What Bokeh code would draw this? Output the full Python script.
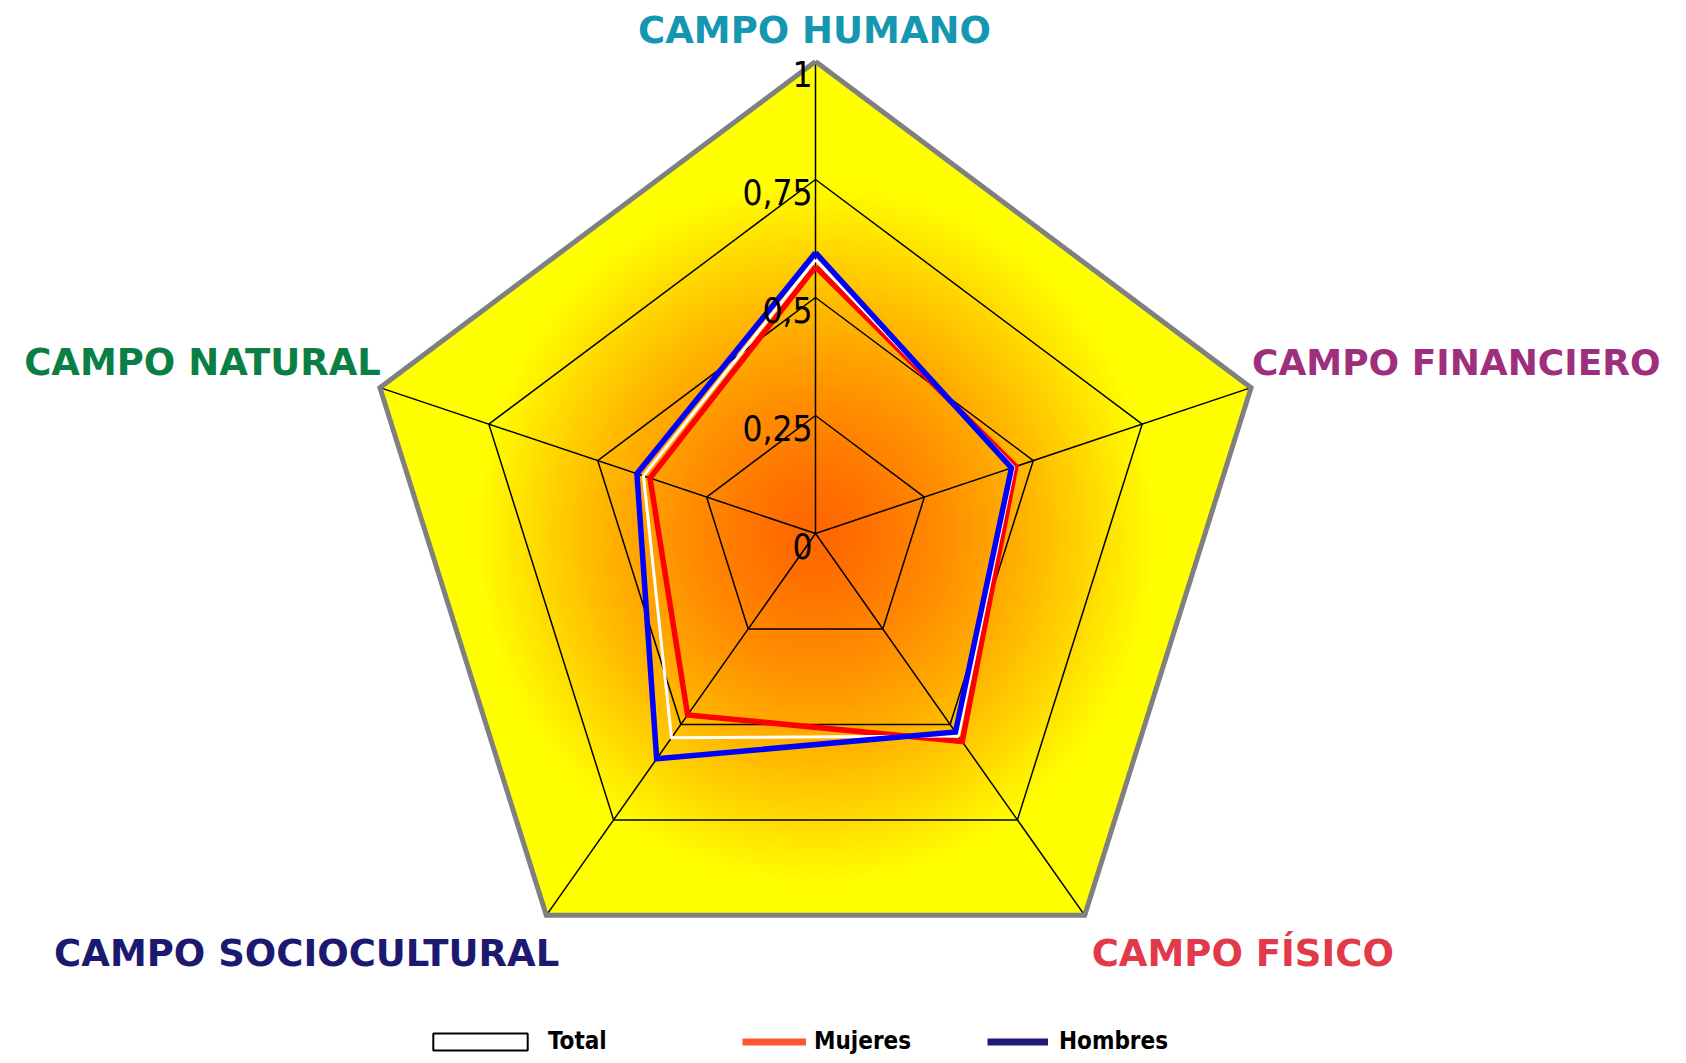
import numpy as np
from bokeh.plotting import figure
from bokeh.models import Legend, LegendItem, Range1d
from bokeh.core.properties import value
from bokeh.embed import file_html
from bokeh.resources import INLINE

# ---------------- data ----------------
categories = ["CAMPO HUMANO", "CAMPO FINANCIERO", "CAMPO FÍSICO",
              "CAMPO SOCIOCULTURAL", "CAMPO NATURAL"]
total = [0.58, 0.455, 0.53, 0.535, 0.395]
mujeres = [0.565, 0.46, 0.545, 0.475, 0.38]
hombres = [0.595, 0.45, 0.52, 0.59, 0.41]
ring_levels = [0, 0.25, 0.5, 0.75, 1]
tick_labels = ["0", "0,25", "0,5", "0,75", "1"]
series_names = ["Total", "Mujeres", "Hombres"]

# ---------------- style ----------------
W, H = 1670, 1055
CX, CY = 815, 533          # centre of the radar in frame pixels
SX, SY = 458, 472          # pixels per unit
label_colors = ["#1597B2", "#9E2F7C", "#E2394B", "#1C1A70", "#0A7F45"]
label_align = ["center", "left", "left", "right", "right"]
label_sizes = ["37px", "36px", "37px", "37px", "37px"]
label_dx = [-1, 1, 7, 13, 1]
label_dy = [-31, -25, 38, 38, -25]
CAT_FONT = value("DejaVu Sans")
NARROW_STR = "DejaVu Sans Condensed"
NARROW = value(NARROW_STR)

p = figure(width=W, height=H, output_backend="svg", toolbar_location=None,
           x_range=Range1d(-CX / SX, (W - CX) / SX),
           y_range=Range1d(-(H - CY) / SY, CY / SY),
           min_border=0)
p.axis.visible = False
p.grid.visible = False
p.outline_line_color = None
p.background_fill_color = "white"
p.border_fill_color = "white"

n = len(categories)
ang = np.pi / 2 - np.arange(n) * 2 * np.pi / n
cx, sy_ = np.cos(ang), np.sin(ang)

# ---------------- gradient fill (radial, clipped to pentagon) ----------------
theta = np.linspace(0, 2 * np.pi, 721)
normals = ang - np.pi / n
def pent_rho(t):
    d = np.abs(((t[:, None] - normals[None, :]) + np.pi) % (2 * np.pi) - np.pi)
    d = d.min(axis=1)
    return np.cos(np.pi / n) / np.cos(d)
rho = pent_rho(theta)
xs, ys, cols = [], [], []
steps = np.linspace(1.0, 0.01, 90)
for r in steps:
    rr = np.minimum(r, rho)
    xs.append(list(rr * np.cos(theta)))
    ys.append(list(rr * np.sin(theta)))
    t = min(1.0, r / 0.75)
    g = int(round(102 + 153 * t ** 1.4))
    cols.append("#%02x%02x%02x" % (255, g, 0))
p.patches(xs, ys, fill_color=cols, line_color=None)

# ---------------- grid ----------------
for lv in ring_levels[1:-1]:
    p.line(list(lv * np.append(cx, cx[0])), list(lv * np.append(sy_, sy_[0])),
           line_color="black", line_width=1.5)
for i in range(n):
    p.line([0, ring_levels[-1] * cx[i]], [0, ring_levels[-1] * sy_[i]],
           line_color="black", line_width=1.5)
outer = ring_levels[-1]
p.line(list(outer * np.append(cx, cx[0])), list(outer * np.append(sy_, sy_[0])),
       line_color="#808080", line_width=5, line_join="miter")

# ---------------- series ----------------
def closed(vals):
    v = np.array(vals)
    x = v * cx
    y = v * sy_
    return list(np.append(x, x[0])), list(np.append(y, y[0]))

mx, my = closed(mujeres)
tx, ty = closed(total)
hx, hy = closed(hombres)
p.line(mx, my, line_color="#FF0000", line_width=5.5, line_join="miter")
p.line(tx, ty, line_color="white", line_width=3, line_join="miter")
p.line(hx, hy, line_color="#0000FF", line_width=5.5, line_join="miter")

# ---------------- tick labels ----------------
p.text(x=[0] * len(ring_levels), y=ring_levels, text=tick_labels,
       text_align="right", text_baseline="middle", x_offset=-3, y_offset=12,
       text_font=NARROW, text_font_size="35px", text_color="black")

# ---------------- category labels ----------------
for i, cat in enumerate(categories):
    p.text(x=[cx[i]], y=[sy_[i]], text=[cat], text_align=label_align[i],
           text_baseline="middle", x_offset=label_dx[i], y_offset=label_dy[i],
           text_font=CAT_FONT, text_font_style="bold", text_font_size=label_sizes[i],
           text_color=label_colors[i])

# ---------------- legend ----------------
r_tot = p.patch(tx, ty, fill_color="white", line_color="black", line_width=2, visible=False)
r_muj = p.line(mx, my, line_color="#FF5530", line_width=7, visible=False)
r_hom = p.line(hx, hy, line_color="#1E1A78", line_width=7, visible=False)

legend_specs = [(r_tot, 421, 118, 21, 9), (r_muj, 742, 64, 21, 8), (r_hom, 987, 61, 21, 11)]
for name, (rend, lx, gw, gh, stand) in zip(series_names, legend_specs):
    lg = Legend(items=[LegendItem(label=name, renderers=[rend])],
                location=(lx, 0), glyph_width=gw, glyph_height=gh,
                label_standoff=stand, padding=0, margin=0,
                background_fill_alpha=0, border_line_alpha=0,
                label_text_font=NARROW_STR, label_text_font_style="bold",
                label_text_font_size="24px", label_text_color="black")
    p.add_layout(lg)

open("out.html", "w").write(file_html(p, INLINE))
